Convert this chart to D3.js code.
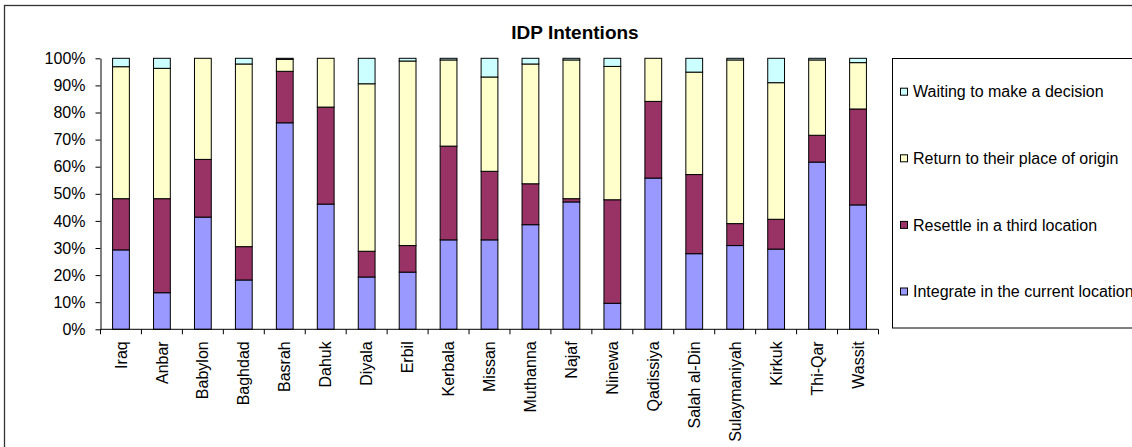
<!DOCTYPE html>
<html>
<head>
<meta charset="utf-8">
<script src="https://cdn.jsdelivr.net/npm/d3@7"></script>
<style>
  html, body { margin: 0; padding: 0; background: #fff; }
  svg { display: block; font-family: "Liberation Sans", Arial, sans-serif; }
</style>
</head>
<body>
<svg id="chart" width="1132" height="447"></svg>
<script>
// Governorates (first column is the national total)
const categories = ["Iraq", "Anbar", "Babylon", "Baghdad", "Basrah", "Dahuk", "Diyala", "Erbil",
  "Kerbala", "Missan", "Muthanna", "Najaf", "Ninewa", "Qadissiya", "Salah al-Din",
  "Sulaymaniyah", "Kirkuk", "Thi-Qar", "Wassit"];

// Share of IDP families per intention, in percent
const integrate = [29.3, 13.5, 41.4, 18.2, 76.2, 46.2, 19.3, 21.1, 33.0, 33.0, 38.6, 47.0, 9.6, 55.8, 27.9, 30.9, 29.6, 61.7, 45.9];
const resettle  = [18.9, 34.7, 21.3, 12.3, 19.0, 35.8, 9.5, 9.8, 34.6, 25.3, 15.1, 1.2, 38.2, 28.3, 29.2, 8.1, 11.0, 9.9, 35.4];
const returning = [48.7, 48.1, 37.3, 67.4, 4.4, 18.0, 61.8, 68.1, 31.8, 34.8, 44.2, 51.2, 49.2, 15.9, 37.8, 60.4, 50.4, 27.8, 17.1];
const waiting   = [3.1, 3.7, 0.0, 2.1, 0.4, 0.0, 9.4, 1.0, 0.6, 6.9, 2.1, 0.6, 3.0, 0.0, 5.1, 0.6, 9.0, 0.6, 1.6];

const seriesNames = ["Integrate in the current location", "Resettle in a third location",
  "Return to their place of origin", "Waiting to make a decision"];
const seriesColors = ["#9999FF", "#993366", "#FFFFCC", "#CCFFFF"];
const yTicks = [0, 0.1, 0.2, 0.3, 0.4, 0.5, 0.6, 0.7, 0.8, 0.9, 1.0];
const title = "IDP Intentions";

const keys = ["integrate", "resettle", "returning", "waiting"];
const rows = categories.map((c, i) => ({
  name: c, integrate: integrate[i], resettle: resettle[i], returning: returning[i], waiting: waiting[i]
}));

const svg = d3.select("#chart");
const plot = { left: 100.5, right: 878.5, top: 58.3, bottom: 329.3 };

// Outer chart frame
svg.append("rect")
  .attr("x", 4.5).attr("y", 5.5)
  .attr("width", 1200).attr("height", 500)
  .attr("fill", "#fff").attr("stroke", "#333").attr("stroke-width", 1.3);

// Title
svg.append("text")
  .attr("x", 575).attr("y", 38.5)
  .attr("text-anchor", "middle")
  .attr("font-size", 19).attr("font-weight", "bold")
  .text(title);

const x = d3.scaleBand().domain(categories).range([plot.left, plot.right]).paddingInner(0).paddingOuter(0);
const y = d3.scaleLinear().domain([0, 1]).range([plot.bottom, plot.top]);
const barW = x.bandwidth() * 0.41;

const stacked = d3.stack().keys(keys).offset(d3.stackOffsetExpand)(rows);

// Stacked bars
svg.append("g").selectAll("g")
  .data(stacked)
  .join("g")
  .attr("fill", (d, i) => seriesColors[i])
  .selectAll("rect")
  .data(d => d)
  .join("rect")
  .attr("x", d => x(d.data.name) + (x.bandwidth() - barW) / 2)
  .attr("y", d => y(d[1]))
  .attr("width", barW)
  .attr("height", d => y(d[0]) - y(d[1]))
  .attr("stroke", "#000")
  .attr("stroke-width", 1);

// Y axis
const yAxis = svg.append("g")
  .attr("transform", `translate(${plot.left},0)`)
  .call(d3.axisLeft(y).tickValues(yTicks).tickFormat(d3.format(".0%")).tickSize(5).tickSizeOuter(0).tickPadding(10));
yAxis.select(".domain").attr("stroke", "#000");
yAxis.selectAll("line").attr("stroke", "#000");
yAxis.selectAll("text").attr("font-size", 16).attr("fill", "#000")
  .attr("font-family", "'Liberation Sans', Arial, sans-serif");

// X axis: ticks between categories, rotated labels
const xAxis = svg.append("g").attr("transform", `translate(0,${plot.bottom})`);
xAxis.append("line")
  .attr("x1", plot.left).attr("x2", plot.right)
  .attr("y1", 0).attr("y2", 0)
  .attr("stroke", "#000");
const boundaries = categories.map(c => x(c)).concat([x(categories[categories.length - 1]) + x.bandwidth()]);
xAxis.selectAll("line.tick")
  .data(boundaries)
  .join("line")
  .attr("class", "tick")
  .attr("x1", d => d).attr("x2", d => d)
  .attr("y1", 0).attr("y2", 5)
  .attr("stroke", "#000");
xAxis.selectAll("text")
  .data(categories)
  .join("text")
  .attr("transform", d => `translate(${x(d) + x.bandwidth() / 2},12) rotate(-90)`)
  .attr("text-anchor", "end")
  .attr("dy", "0.35em")
  .attr("font-size", 16)
  .text(d => d);

// Legend
const legend = svg.append("g");
legend.append("rect")
  .attr("x", 892.5).attr("y", 58.5)
  .attr("width", 300).attr("height", 269.5)
  .attr("fill", "#fff").attr("stroke", "#000").attr("stroke-width", 1);
const legendOrder = [3, 2, 1, 0];
legendOrder.forEach((s, j) => {
  const cy = 91.7 + j * 66.6;
  legend.append("rect")
    .attr("x", 900.5).attr("y", cy - 3.5)
    .attr("width", 7).attr("height", 7)
    .attr("fill", seriesColors[s]).attr("stroke", "#000").attr("stroke-width", 1);
  legend.append("text")
    .attr("x", 913).attr("y", cy)
    .attr("dy", "0.35em")
    .attr("font-size", 16)
    .text(seriesNames[s]);
});
</script>
</body>
</html>
